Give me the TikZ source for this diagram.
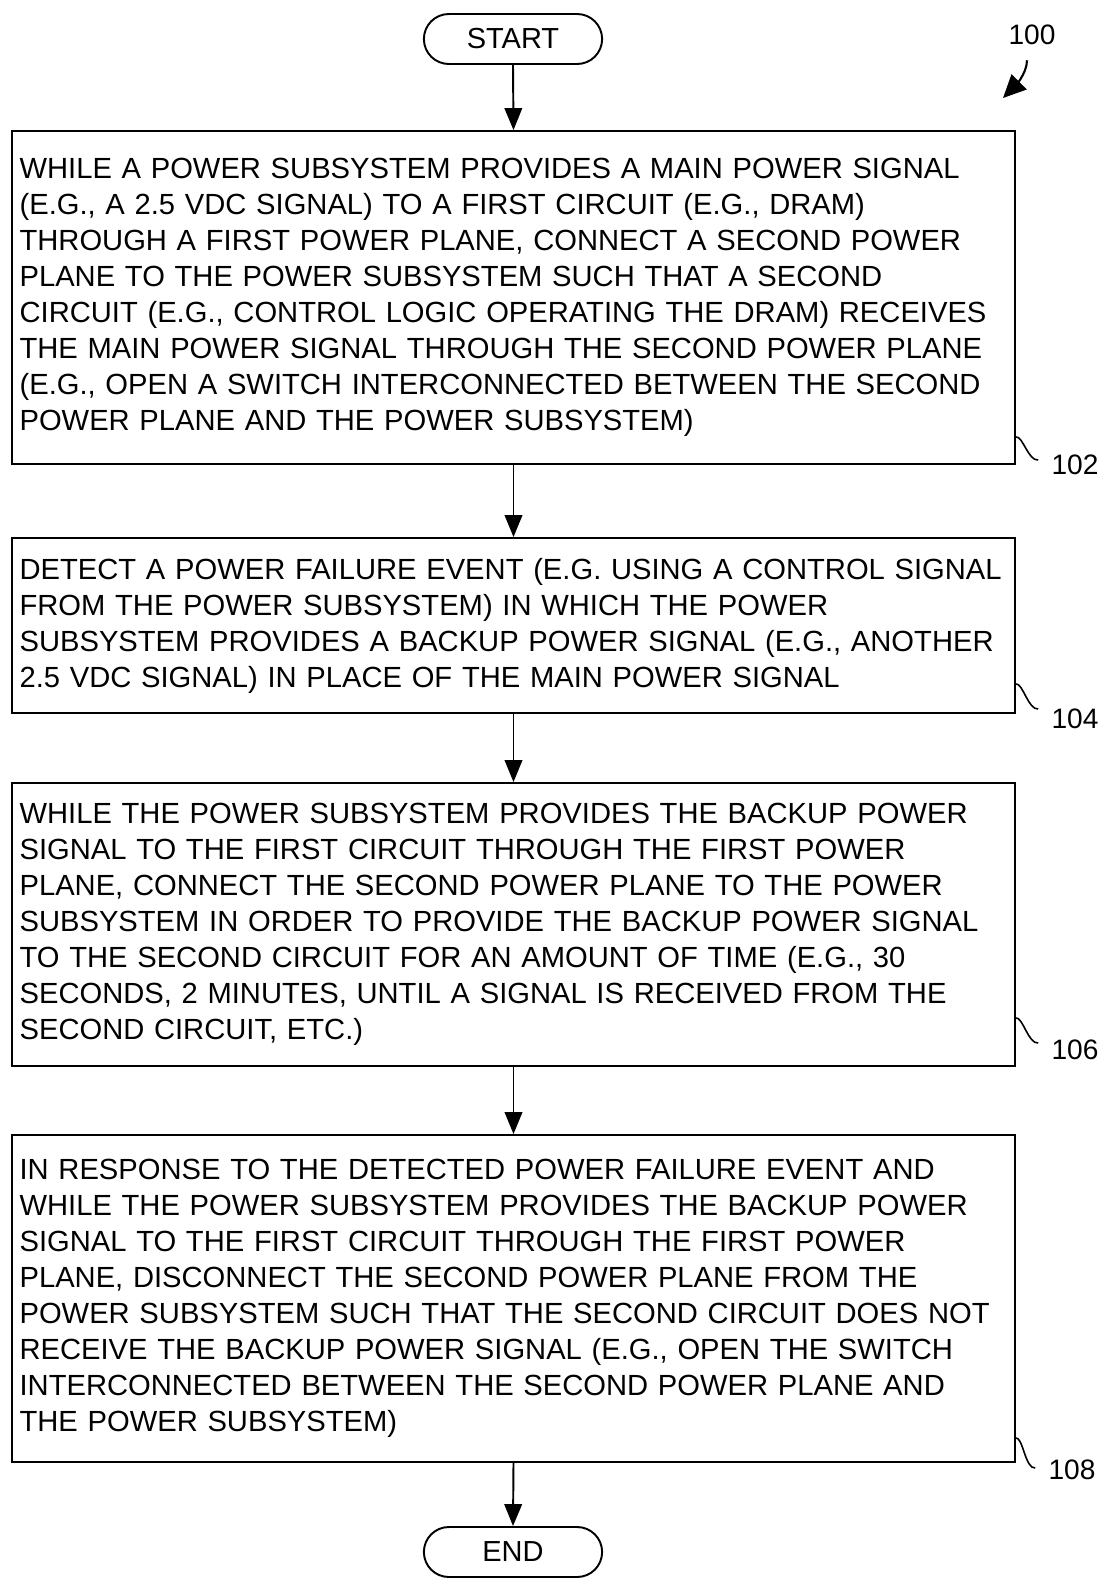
\documentclass[tikz,border=0pt]{standalone}
\usepackage{fontspec}
\setmainfont{Liberation Sans}
\usetikzlibrary{shapes.misc,arrows.meta,positioning}

\begin{document}
\begin{tikzpicture}[x=0.02cm, y=-0.02cm,
    terminal/.style = {rounded rectangle, draw, line width=1.1pt,
                       minimum width=3.8cm, minimum height=1cm,
                       font=\fontsize{16.5}{20}\selectfont},
    stepbox/.style  = {rectangle, draw, line width=1.1pt, text width=19.76cm,
                       inner xsep=0.15cm, align=left,
                       font=\fontsize{16.6}{20.5}\selectfont},
    refnum/.style   = {inner xsep=0.26cm, inner ysep=0pt,
                       font=\fontsize{16}{19}\selectfont},
    arrow/.style    = {-{Triangle[length=12.5pt,width=10pt]}, line width=1.1pt},
    leader/.style   = {line width=0.9pt},
]
  \useasboundingbox (0,0) rectangle (1104,1583);

  \node[terminal] (start) at (513,39) {START};

  \node[stepbox, minimum height=6.66cm] (s102) at (513.5,297.5) {%
    WHILE A POWER SUBSYSTEM PROVIDES A MAIN POWER SIGNAL\\
    (E.G., A 2.5 VDC SIGNAL) TO A FIRST CIRCUIT (E.G., DRAM)\\
    THROUGH A FIRST POWER PLANE, CONNECT A SECOND POWER\\
    PLANE TO THE POWER SUBSYSTEM SUCH THAT A SECOND\\
    CIRCUIT (E.G., CONTROL LOGIC OPERATING THE DRAM) RECEIVES\\
    THE MAIN POWER SIGNAL THROUGH THE SECOND POWER PLANE\\
    (E.G., OPEN A SWITCH INTERCONNECTED BETWEEN THE SECOND\\
    POWER PLANE AND THE POWER SUBSYSTEM)};

  \node[stepbox, minimum height=3.5cm] (s104) at (513.5,625.5) {%
    DETECT A POWER FAILURE EVENT (E.G. USING A CONTROL SIGNAL\\
    FROM THE POWER SUBSYSTEM) IN WHICH THE POWER\\
    SUBSYSTEM PROVIDES A BACKUP POWER SIGNAL (E.G., ANOTHER\\
    2.5 VDC SIGNAL) IN PLACE OF THE MAIN POWER SIGNAL};

  \node[stepbox, minimum height=5.66cm] (s106) at (513.5,924.5) {%
    WHILE THE POWER SUBSYSTEM PROVIDES THE BACKUP POWER\\
    SIGNAL TO THE FIRST CIRCUIT THROUGH THE FIRST POWER\\
    PLANE, CONNECT THE SECOND POWER PLANE TO THE POWER\\
    SUBSYSTEM IN ORDER TO PROVIDE THE BACKUP POWER SIGNAL\\
    TO THE SECOND CIRCUIT FOR AN AMOUNT OF TIME (E.G., 30\\
    SECONDS, 2 MINUTES, UNTIL A SIGNAL IS RECEIVED FROM THE\\
    SECOND CIRCUIT, ETC.)};

  \node[stepbox, minimum height=6.54cm] (s108) at (513.5,1298.5) {%
    IN RESPONSE TO THE DETECTED POWER FAILURE EVENT AND\\
    WHILE THE POWER SUBSYSTEM PROVIDES THE BACKUP POWER\\
    SIGNAL TO THE FIRST CIRCUIT THROUGH THE FIRST POWER\\
    PLANE, DISCONNECT THE SECOND POWER PLANE FROM THE\\
    POWER SUBSYSTEM SUCH THAT THE SECOND CIRCUIT DOES NOT\\
    RECEIVE THE BACKUP POWER SIGNAL (E.G., OPEN THE SWITCH\\
    INTERCONNECTED BETWEEN THE SECOND POWER PLANE AND\\
    THE POWER SUBSYSTEM)};

  \node[terminal] (end) at (513,1552) {END};

  % flow
  \draw[arrow] (start.south) -- (s102.north);
  \draw[arrow] (s102.south) -- (s104.north);
  \draw[arrow] (s104.south) -- (s106.north);
  \draw[arrow] (s106.south) -- (s108.north);
  \draw[arrow] (s108.south) -- (end.north);

  % reference numerals
  \node[refnum] (n100) at (1032,35) {100};
  \coordinate (p100) at (1003,98);
  \draw[line width=1.2pt, -{Triangle[length=13pt,width=12pt]}]
    ([xshift=-0.1cm,yshift=-0.3cm]n100.south) .. controls +(0,14) and +(10,-10) .. (p100);

  \node[refnum] (n102) at (1075,465) {102};
  \node[refnum] (n104) at (1075,719) {104};
  \node[refnum] (n106) at (1075,1050) {106};
  \node[refnum] (n108) at (1072,1470) {108};

  \draw[leader] ([yshift=0.56cm]s102.south east)
    .. controls +(7,-1) and +(-10,1) .. ([yshift=0.1cm]n102.west);
  \draw[leader] ([yshift=0.6cm]s104.south east)
    .. controls +(7,-1) and +(-10,1) .. ([yshift=0.2cm]n104.west);
  \draw[leader] ([yshift=0.98cm]s106.south east)
    .. controls +(7,-1) and +(-10,1) .. ([yshift=0.14cm]n106.west);
  \draw[leader] ([yshift=0.5cm]s108.south east)
    .. controls +(7,-1) and +(-10,1) .. ([yshift=0.04cm]n108.west);

\end{tikzpicture}
\end{document}
